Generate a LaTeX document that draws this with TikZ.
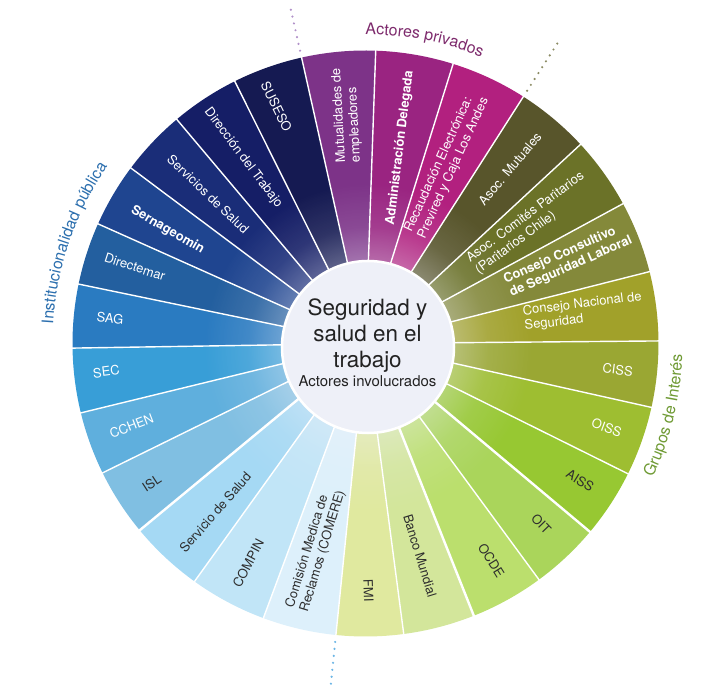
\documentclass[tikz,border=0pt]{standalone}
\usepackage{fontspec}
\setmainfont{TeX Gyre Heros}
\usetikzlibrary{decorations.text,fadings}
\definecolor{cissc}{HTML}{9AA733}
\definecolor{cnsc}{HTML}{A1A12A}
\definecolor{ccslc}{HTML}{84893A}
\definecolor{acpc}{HTML}{6B7228}
\definecolor{amc}{HTML}{58552B}
\definecolor{rec}{HTML}{B2207F}
\definecolor{adc}{HTML}{9A2481}
\definecolor{muc}{HTML}{7D3388}
\definecolor{suc}{HTML}{151A52}
\definecolor{dtc}{HTML}{151E66}
\definecolor{ssc}{HTML}{1A2D78}
\definecolor{sernc}{HTML}{1F4590}
\definecolor{dic}{HTML}{235F9F}
\definecolor{sagc}{HTML}{2A7BC1}
\definecolor{secc}{HTML}{389ED7}
\definecolor{cchc}{HTML}{5FAFDD}
\definecolor{islc}{HTML}{80BFE2}
\definecolor{sdsc}{HTML}{A5D9F4}
\definecolor{cpc}{HTML}{C1E5F7}
\definecolor{coc}{HTML}{DDF0FB}
\definecolor{fmic}{HTML}{E0E99F}
\definecolor{bmc}{HTML}{D3E69B}
\definecolor{occ}{HTML}{BBDF6D}
\definecolor{oitc}{HTML}{AAD55B}
\definecolor{aic}{HTML}{97C832}
\definecolor{oic}{HTML}{9EBE31}
\definecolor{darktxt}{HTML}{2E2E2E}
\definecolor{titlec}{HTML}{222222}
\definecolor{hubc}{HTML}{EEF0F8}
\definecolor{privc}{HTML}{7D2A6C}
\definecolor{instc}{HTML}{2C6FAE}
\definecolor{grupc}{HTML}{6F9A34}
\definecolor{dotpriv}{HTML}{B191C9}
\definecolor{dotgrup}{HTML}{8B8B63}
\definecolor{dotinst}{HTML}{6BB5E5}
\newcommand\grpfont{\fontsize{16}{19}\selectfont}
\pgfdeclareradialshading{glowshade}{\pgfpoint{0bp}{0bp}}{color(0bp)=(black!40); color(10.75bp)=(black!66); color(15bp)=(black!88); color(20.5bp)=(black); color(50bp)=(black)}
\pgfdeclarefading{glowfade}{\pgfuseshading{glowshade}}
\begin{document}
\begin{tikzpicture}[x=1bp,y=1bp,
  lab/.style={font=\fontsize{13}{15}\selectfont, align=left, inner sep=0pt},
  wl/.style={lab, text=white},
  dl/.style={lab, text=darktxt},
  sepline/.style={white, line width=1.4bp},
  septhick/.style={white, line width=2.4bp},
  dotline/.style={line width=2.4bp, dash pattern=on 0bp off 7bp, line cap=round}]
\useasboundingbox (-365.5,-346.5) rectangle (351.5,343.5);
% sectors
\foreach \a/\b/\c in {-12.6/0.5/cissc, 0.5/14.2/cnsc, 14.2/28.5/ccslc, 28.5/42.8/acpc,
  42.8/57.4/amc, 57.4/72.6/rec, 72.6/88.0/adc, 88.0/102.6/muc, 102.6/116.5/suc,
  116.5/130.1/dtc, 130.1/143.2/ssc, 143.2/155.9/sernc, 155.9/168.3/dic,
  168.3/180.9/sagc, 180.9/193.7/secc, 193.7/206.2/cchc, 206.2/219.6/islc,
  219.6/234.3/sdsc, 234.3/249.6/cpc, 249.6/264.2/coc, 264.2/277.5/fmic,
  277.5/291.7/bmc, 291.7/306.3/occ, 306.3/320.0/oitc, 320.0/333.6/aic, 333.6/347.4/oic}
  {\fill[\c] (0,0) -- (\a:293) arc[start angle=\a, end angle=\b, radius=293] -- cycle;}
% glow near the hub
\fill[hubc, path fading=glowfade, fit fading=true] (2.5,-3.5) circle (200);
% separators
\foreach \a in {-12.6, 0.5, 14.2, 28.5, 42.8, 57.4, 72.6, 88.0, 102.6, 116.5, 130.1,
  143.2, 155.9, 168.3, 180.9, 193.7, 206.2, 234.3, 249.6, 264.2, 277.5, 306.3, 333.6}
  {\draw[sepline] (\a:80) -- (\a:294);}
\foreach \a in {219.6, 291.7, 320.0}
  {\draw[septhick] (\a:80) -- (\a:294);}
% labels
\node[wl, rotate=-7] (lciss) at (-6.0:253.6) {CISS};
\node[wl, rotate=7] (lcns) at (8.3:220) {Consejo Nacional de\\Seguridad};
\node[wl, rotate=24, font=\fontsize{13}{15}\selectfont\bfseries] (lccsl) at (22.4:219) {Consejo Consultivo\\de Seguridad Laboral};
\node[wl, rotate=36.5] (lacp) at (36.2:203.7) {Asoc. Comités Paritarios\\(Paritarios Chile)};
\node[wl, rotate=50] (lam) at (50.4:226.6) {Asoc. Mutuales};
\node[wl, rotate=65.5] (lre) at (65.5:196) {Recaudación Electrónica:\\Previred y Caja Los Andes};
\node[wl, rotate=83, font=\fontsize{13}{15}\selectfont\bfseries] (lad) at (80:198.5) {Administración Delegada};
\node[wl, rotate=93] (lmu) at (94.7:229) {Mutualidades de\\empleadores};
\node[wl, rotate=-64] (lsu) at (110.6:253) {SUSESO};
\node[wl, rotate=-53] (ldt) at (123.4:222) {Dirección del Trabajo};
\node[wl, rotate=-44] (lss) at (136.5:217) {Servicios de Salud};
\node[wl, rotate=-30, font=\fontsize{13}{15}\selectfont\bfseries] (lse) at (150.2:228) {Sernageomin};
\node[wl, rotate=-18] (ldi) at (161.6:243) {Directemar};
\node[wl, rotate=-5.5] (lsag) at (174.3:256.8) {SAG};
\node[wl, rotate=7.5] (lsec) at (186.2:260.7) {SEC};
\node[wl, rotate=21] (lcch) at (199.4:248) {CCHEN};
\node[dl, rotate=33] (lisl) at (213.2:255.5) {ISL};
\node[dl, rotate=49] (lsds) at (228.3:226) {Servicio de Salud};
\node[dl, rotate=62] (lcp) at (241.9:249) {COMPIN};
\node[dl, rotate=73] (lco) at (256.4:211.6) {Comisión Medica de\\Reclamos (COMERE)};
\node[dl, rotate=-88] (lfmi) at (270.7:247.3) {FMI};
\node[dl, rotate=-73] (lbm) at (284.4:219) {Banco Mundial};
\node[dl, rotate=-58] (loc) at (300.1:251) {OCDE};
\node[dl, rotate=-46] (loit) at (314.2:252) {OIT};
\node[dl, rotate=-32] (lai) at (327.4:254.7) {AISS};
\node[wl, rotate=-20] (loi) at (340.8:255.4) {OISS};
% hub
\node[circle, fill=hubc, draw=white, line width=2.5bp, minimum size=172bp, inner sep=0pt] (hub) at (2.5,-3.5) {};
\node[font=\fontsize{22.5}{26}\selectfont, text=titlec, anchor=base, inner sep=0pt] (t1) at (2,27.5) {Seguridad y};
\node[font=\fontsize{22.5}{26}\selectfont, text=titlec, anchor=base, inner sep=0pt] (t2) at (2,1.8) {salud en el};
\node[font=\fontsize{22.5}{26}\selectfont, text=titlec, anchor=base, inner sep=0pt] (t3) at (2,-24.5) {trabajo};
\node[font=\fontsize{15}{18}\selectfont, text=titlec, anchor=base, inner sep=0pt] (t4) at (2,-43.2) {Actores involucrados};
% group separators (dotted)
\coordinate (dp1) at (102.6:300); \coordinate (dp2) at (102.6:347);
\coordinate (dg1) at (57.4:300); \coordinate (dg2) at (57.4:362);
\coordinate (di1) at (264.2:300); \coordinate (di2) at (264.2:346);
\draw[dotline, dotpriv] (dp1) -- (dp2);
\draw[dotline, dotgrup] (dg1) -- (dg2);
\draw[dotline, dotinst] (di1) -- (di2);
% group labels
\path[decorate, decoration={text along path, text align=center,
  text={|\grpfont\color{privc}|Actores privados}}]
  (98:309) arc[start angle=98, end angle=60, radius=309];
\path[decorate, decoration={text along path, text align=center,
  text={|\grpfont\color{instc}|Institucionalidad pública}}]
  (190:313) arc[start angle=190, end angle=132, radius=313];
\path[decorate, decoration={text along path, text align=center,
  text={|\grpfont\color{grupc}|Grupos de Interés}}]
  (-35:317) arc[start angle=-35, end angle=8, radius=317];
\end{tikzpicture}
\end{document}
